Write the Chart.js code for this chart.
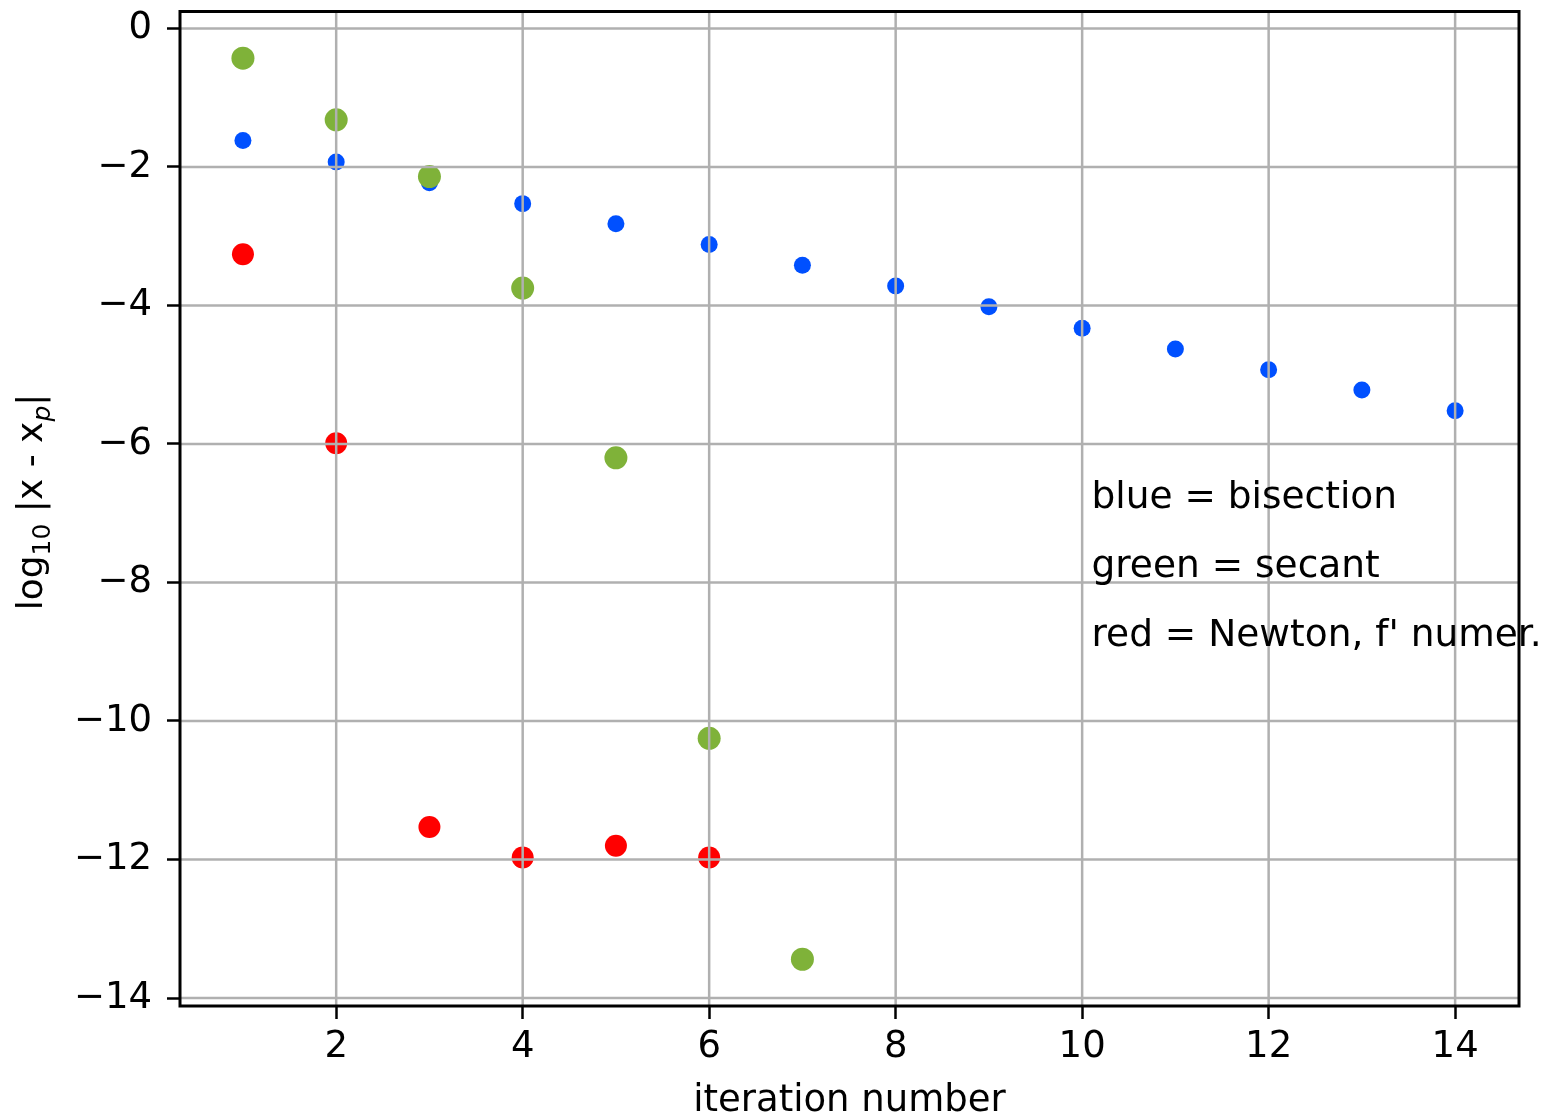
<!DOCTYPE html>
<html>
<head>
<meta charset="utf-8">
<script src="https://cdn.jsdelivr.net/npm/chart.js@4.4.1/dist/chart.umd.min.js"></script>
<style>
  html, body { margin: 0; padding: 0; background: #fff; }
  #wrap { width: 1554px; height: 1119px; }
</style>
</head>
<body>
<div id="wrap"><canvas id="chart_one"></canvas></div>
<script>
// iteration numbers and log10 errors for each method
var iterations = [1, 2, 3, 4, 5, 6, 7, 8, 9, 10, 11, 12, 13, 14];
var bisection = [-1.62, -1.93, -2.23, -2.53, -2.82, -3.12, -3.42, -3.72, -4.02, -4.33, -4.63, -4.93, -5.22, -5.52];
var secant = [-0.43, -1.32, -2.14, -3.75, -6.2, -10.25, -13.44];
var newton = [-3.26, -5.99, -11.53, -11.97, -11.8, -11.97];
var xTicks = [2, 4, 6, 8, 10, 12, 14];
var yTicks = [-14, -12, -10, -8, -6, -4, -2, 0];
var notes = ["blue = bisection", "green = secant", "red = Newton, f' numer."];

var FONT = "DejaVu Sans";

function points(ys) {
  return ys.map(function (y, i) {
    return { x: iterations[i], y: y };
  });
}

function minus(v) {
  return String(v).replace("-", "\u2212");
}

// matplotlib draws grid + spines over the markers
var overlay = {
  id: "overlay",
  afterDatasetsDraw: function (chart) {
    var ctx = chart.ctx;
    var a = chart.chartArea;
    var xs = chart.scales.x;
    var ys = chart.scales.y;
    ctx.save();
    ctx.strokeStyle = "#b0b0b0";
    ctx.lineWidth = 2.5;
    xTicks.forEach(function (t) {
      var px = xs.getPixelForValue(t);
      ctx.beginPath();
      ctx.moveTo(px, a.top);
      ctx.lineTo(px, a.bottom);
      ctx.stroke();
    });
    yTicks.forEach(function (t) {
      var py = ys.getPixelForValue(t);
      ctx.beginPath();
      ctx.moveTo(a.left, py);
      ctx.lineTo(a.right, py);
      ctx.stroke();
    });
    ctx.strokeStyle = "#000";
    ctx.lineWidth = 3;
    ctx.strokeRect(a.left, a.top, a.right - a.left, a.bottom - a.top);
    ctx.restore();
  },
  afterDraw: function (chart) {
    var ctx = chart.ctx;
    var a = chart.chartArea;
    var xs = chart.scales.x;
    var ys = chart.scales.y;
    ctx.save();
    ctx.fillStyle = "#000";

    // notes
    ctx.font = "37.5px '" + FONT + "'";
    ctx.textAlign = "left";
    ctx.textBaseline = "alphabetic";
    notes.forEach(function (t, i) {
      ctx.fillText(t, xs.getPixelForValue(10.1), ys.getPixelForValue(-6.92 - i));
    });

    // x title
    ctx.font = "37px '" + FONT + "'";
    ctx.textAlign = "center";
    ctx.fillText("iteration number", (a.left + a.right) / 2, 1111);

    // y title with subscripts, rotated
    ctx.translate(42, 502);
    ctx.rotate(-Math.PI / 2);
    var parts = [
      { t: "log", f: "36px '" + FONT + "'", dy: 0 },
      { t: "10", f: "25px '" + FONT + "'", dy: 8 },
      { t: " |x - x", f: "36px '" + FONT + "'", dy: 0 },
      { t: "p", f: "italic 25px '" + FONT + "'", dy: 8 },
      { t: "|", f: "36px '" + FONT + "'", dy: 0 }
    ];
    var total = 0;
    parts.forEach(function (p) {
      ctx.font = p.f;
      p.w = ctx.measureText(p.t).width;
      total += p.w;
    });
    var x0 = -total / 2;
    ctx.textAlign = "left";
    parts.forEach(function (p) {
      ctx.font = p.f;
      ctx.fillText(p.t, x0, p.dy);
      x0 += p.w;
    });
    ctx.restore();
  }
};

var ctx = document.getElementById("chart_one").getContext("2d");
var chart = new Chart(ctx, {
  type: "scatter",
  data: {
    datasets: [
      {
        label: "bisection",
        data: points(bisection),
        backgroundColor: "#0050ff",
        borderWidth: 0,
        pointRadius: 8.5,
        order: 3
      },
      {
        label: "secant",
        data: points(secant),
        backgroundColor: "#7fb239",
        borderWidth: 0,
        pointRadius: 11.5,
        order: 2
      },
      {
        label: "Newton",
        data: points(newton),
        backgroundColor: "#ff0000",
        borderWidth: 0,
        pointRadius: 11,
        order: 1
      }
    ]
  },
  plugins: [overlay],
  options: {
    responsive: true,
    maintainAspectRatio: false,
    animation: false,
    layout: { padding: { left: 0, top: 6, right: 35, bottom: 0 } },
    plugins: {
      legend: { display: false },
      tooltip: { enabled: false }
    },
    scales: {
      x: {
        type: "linear",
        min: 0.325,
        max: 14.685,
        afterBuildTicks: function (s) {
          s.ticks = xTicks.map(function (v) { return { value: v }; });
        },
        afterFit: function (s) {
          s.height = 113;
          s.paddingLeft = 0;
          s.paddingRight = 0;
        },
        grid: {
          drawOnChartArea: false,
          drawTicks: true,
          tickLength: 13,
          tickWidth: 2.5,
          tickColor: "#000"
        },
        border: { display: false },
        ticks: {
          color: "#000",
          padding: 6,
          maxRotation: 0,
          font: { family: FONT, size: 37 },
          callback: function (v) { return minus(v); }
        }
      },
      y: {
        type: "linear",
        min: -14.115,
        max: 0.244,
        afterBuildTicks: function (s) {
          s.ticks = yTicks.map(function (v) { return { value: v }; });
        },
        afterFit: function (s) {
          s.width = 180;
          s.paddingTop = 0;
          s.paddingBottom = 0;
        },
        grid: {
          drawOnChartArea: false,
          drawTicks: true,
          tickLength: 13,
          tickWidth: 2.5,
          tickColor: "#000"
        },
        border: { display: false },
        ticks: {
          color: "#000",
          padding: 15,
          font: { family: FONT, size: 37 },
          callback: function (v) { return minus(v); }
        }
      }
    }
  }
});
</script>
</body>
</html>
